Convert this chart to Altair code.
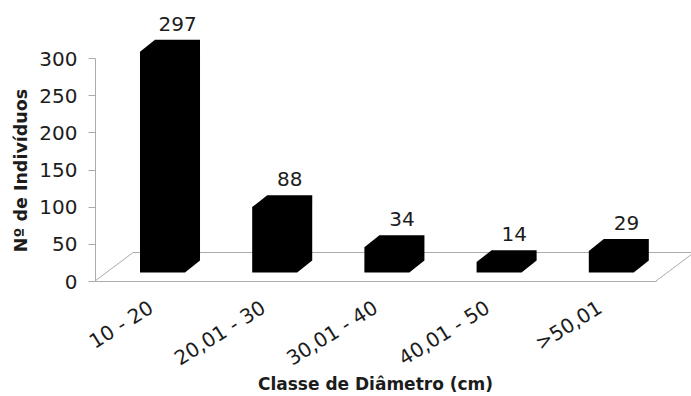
import altair as alt
import pandas as pd

# Tree counts per diameter class
categorias = ["10 - 20", "20,01 - 30", "30,01 - 40", "40,01 - 50", ">50,01"]
contagens = [297, 88, 34, 14, 29]

FONT = "DejaVu Sans"
INK = "#1c1c1c"
GREY = "#ababab"

# Pseudo-3D geometry in data units (x: class widths, y: individuals)
FLOOR_DX = 0.339
FLOOR_DY = 38.3
BAR_LEFT = 0.401
BAR_W = 0.401
BAR_DX = 0.134
BAR_DY = 16.1
BAR_BASE = 11.4

# Each bar silhouette is an area traced left to right: front face plus top and side
linhas = []
rotulos = []
for i, (cat, v) in enumerate(zip(categorias, contagens)):
    x0 = i + BAR_LEFT
    x1 = x0 + BAR_W
    frente = BAR_BASE + v
    fundo = frente + BAR_DY
    linhas += [
        {"cat": cat, "x": x0, "y": BAR_BASE, "y2": frente},
        {"cat": cat, "x": x0 + BAR_DX, "y": BAR_BASE, "y2": fundo},
        {"cat": cat, "x": x1, "y": BAR_BASE, "y2": fundo},
        {"cat": cat, "x": x1 + BAR_DX, "y": BAR_BASE + BAR_DY, "y2": fundo},
    ]
    rotulos.append({"x": x0 + 0.335, "y": fundo, "valor": str(v)})

barras = pd.DataFrame(linhas)
textos = pd.DataFrame(rotulos)

# Floor edges: left diagonal, back edge, right diagonal
chao = pd.DataFrame([
    {"x": 0, "y": 0, "x2": FLOOR_DX, "y2": FLOOR_DY},
    {"x": FLOOR_DX, "y": FLOOR_DY, "x2": 5 + FLOOR_DX, "y2": FLOOR_DY},
    {"x": 5, "y": 0, "x2": 5 + FLOOR_DX, "y2": FLOOR_DY},
])

rotulo_expr = "[" + ",".join(f"'{c}'" for c in categorias) + "][floor(datum.value)]"

# The same encodings are shared by every layer so the axes merge cleanly
x_enc = alt.X(
    "x:Q",
    scale=alt.Scale(domain=[0, 5], nice=False, zero=False),
    axis=alt.Axis(
        values=[i + 0.5 for i in range(len(categorias))],
        labelExpr=rotulo_expr,
        ticks=False, grid=False, domainColor=GREY, domainWidth=1,
        labelFont=FONT, labelFontSize=20, labelColor=INK,
        labelAngle=-32, labelAlign="right", labelBaseline="middle",
        labelPadding=25, labelOverlap=False,
        title="Classe de Diâmetro (cm)", titleFont=FONT, titleFontSize=17,
        titleFontWeight="bold", titleColor=INK, titleX=280, titleY=103,
        titleAlign="center", titleBaseline="middle",
    ),
)
y_enc = alt.Y(
    "y:Q",
    scale=alt.Scale(domain=[0, 300], nice=False, zero=False),
    axis=alt.Axis(
        values=[0, 50, 100, 150, 200, 250, 300],
        tickSize=7, tickColor=GREY, grid=False, domainColor=GREY, domainWidth=1,
        labelFont=FONT, labelFontSize=20, labelColor=INK, labelPadding=11,
        labelOffset=1,
        title="Nº de Indivíduos", titleFont=FONT, titleFontSize=17.5,
        titleFontWeight="bold", titleColor=INK, titleX=-74, titleY=112,
        titleAlign="center", titleBaseline="middle",
    ),
)

bordas = alt.Chart(chao).mark_rule(color=GREY, strokeWidth=1).encode(
    x=x_enc, x2="x2:Q", y=y_enc, y2="y2:Q",
)

corpos = alt.Chart(barras).mark_area(color="#000000", opacity=1, interpolate="linear").encode(
    x=x_enc, y=y_enc, y2="y2:Q", detail="cat:N",
)

valores = alt.Chart(textos).mark_text(
    font=FONT, fontSize=20, color=INK, baseline="middle", align="center", dy=-15
).encode(
    x=x_enc, y=y_enc, text="valor:N",
)

chart = alt.layer(bordas, corpos, valores).properties(
    width=561,
    height=223,
    padding={"left": 95, "top": 58, "right": 35, "bottom": 115},
    autosize=alt.AutoSizeParams(type="none"),
    background="#ffffff",
).configure_view(stroke=None)

chart.save("out.html", embed_options={"renderer": "svg", "actions": False})
